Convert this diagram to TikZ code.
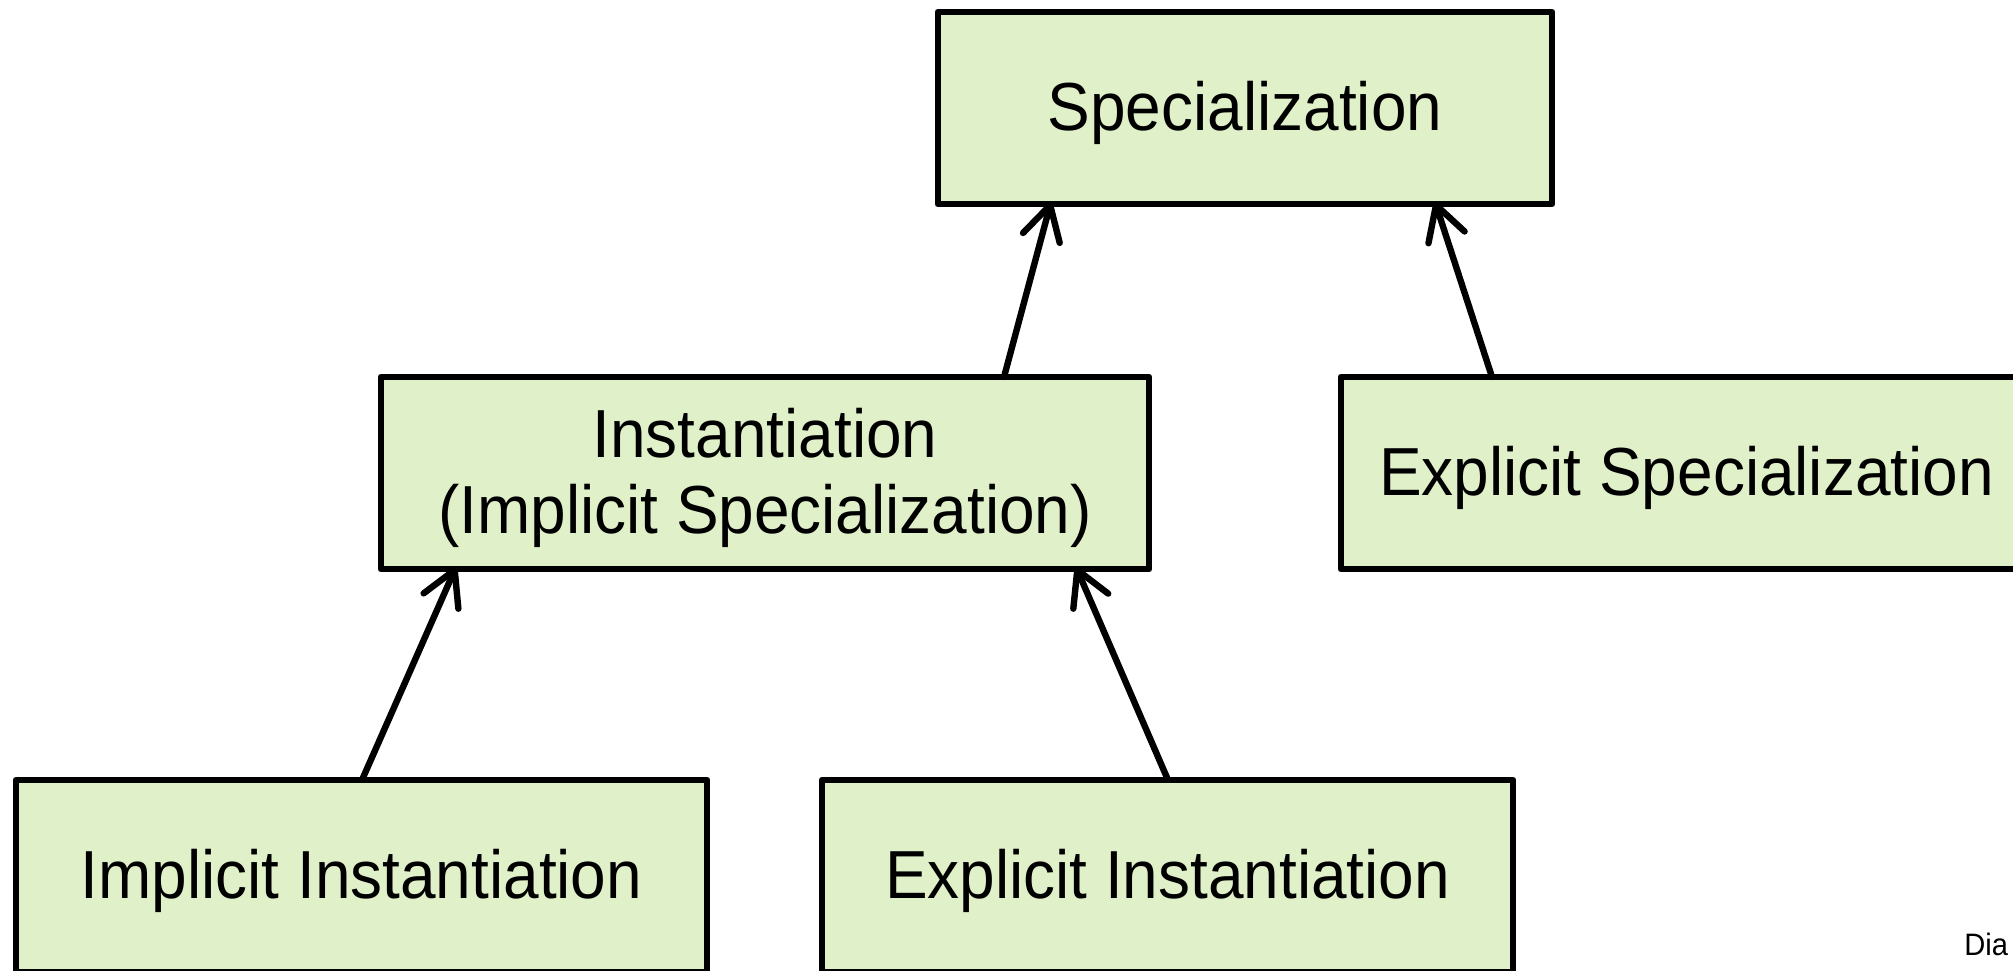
\documentclass[tikz,border=0pt]{standalone}
\usepackage{fontspec}
\setmainfont[FakeStretch=0.94]{Liberation Sans}
\usetikzlibrary{arrows.meta,calc}
\definecolor{boxfill}{RGB}{224,240,200}
\tikzset{
  box/.style={draw=black, fill=boxfill, line width=3.4pt, line join=round,
    rectangle, outer sep=0pt, inner sep=0pt, align=center,
    minimum height=96pt, text depth=2pt,
    font=\fontsize{34pt}{38pt}\selectfont},
  link/.style={draw=black, line width=3.2pt, line cap=round,
    -{Straight Barb[length=17pt, width=19pt, line cap=round, line join=round]}},
  note/.style={inner sep=0pt, anchor=base west,
    font=\fontsize{15.5pt}{18pt}\selectfont}
}
\begin{document}
\begin{tikzpicture}[x=0.5pt, y=-0.5pt]
  \useasboundingbox (0,0) rectangle (2013,970);
  \clip (0,0) rectangle (2013,970);

  % class hierarchy boxes
  \node[box, minimum width=307pt]   (spec)  at (1245,108)   {Specialization};
  \node[box, minimum width=384pt]   (inst)  at (765,473)    {Instantiation\\(Implicit Specialization)};
  \node[box, minimum width=345.5pt] (espec) at (1686.5,473) {Explicit Specialization};
  \node[box, minimum width=345.5pt] (iinst) at (361.5,876)  {Implicit Instantiation};
  \node[box, minimum width=345.5pt] (einst) at (1167.5,876) {Explicit Instantiation};

  % generalization links
  \draw[link] ($(inst.north west)+(623,0)$)  -- ($(spec.south west)+(113,-2)$);
  \draw[link] ($(espec.north west)+(151,0)$) -- ($(spec.south west)+(497,-2)$);
  \draw[link] ($(iinst.north west)+(346,0)$) -- ($(inst.south west)+(75,-2)$);
  \draw[link] ($(einst.north west)+(346,0)$) -- ($(inst.south west)+(695,-2)$);

  \node[note] (credit) at (1964,955) {Dia};
\end{tikzpicture}
\end{document}
